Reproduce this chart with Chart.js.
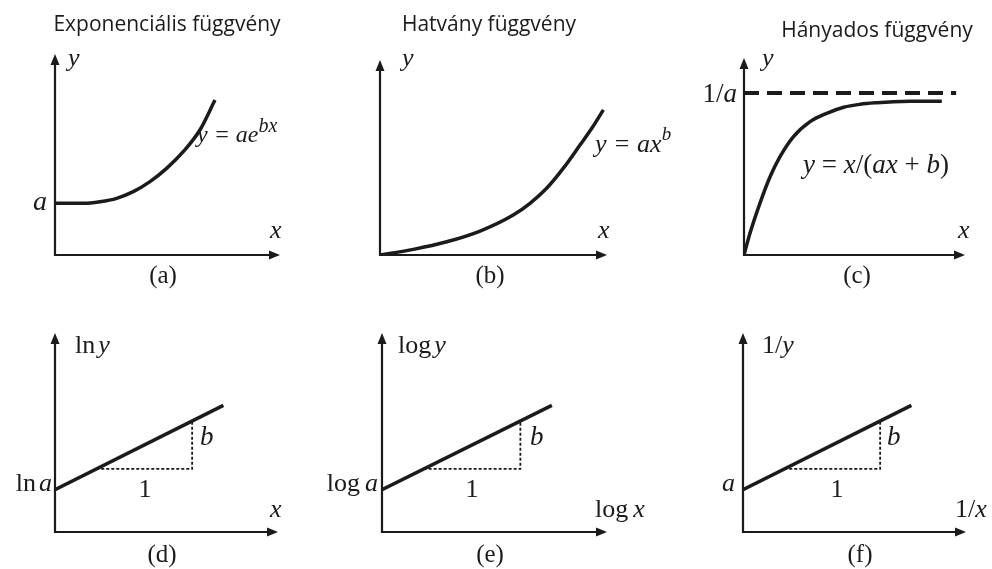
<!DOCTYPE html>
<html>
<head>
<meta charset="utf-8">
<script src="https://cdn.jsdelivr.net/npm/chart.js@4.4.1/dist/chart.umd.min.js"></script>
<style>
  html, body { margin: 0; padding: 0; background: #fff; }
  #stage { position: relative; width: 992px; height: 569px; overflow: hidden; }
  #stage canvas { position: absolute; left: 0; top: 0; }
</style>
</head>
<body>
<div id="stage">
  <canvas id="panelA" width="992" height="569"></canvas>
  <canvas id="panelB" width="992" height="569"></canvas>
  <canvas id="panelC" width="992" height="569"></canvas>
  <canvas id="panelD" width="992" height="569"></canvas>
  <canvas id="panelE" width="992" height="569"></canvas>
  <canvas id="panelF" width="992" height="569"></canvas>
</div>
<script>
  'use strict';

  // Each axis runs 0..100 from the origin to the arrow tip.
  // (a) exponential curve y = a e^(bx)
  const expX = [0, 12.6, 20, 27.4, 34.8, 42.2, 49.6, 57, 64.4, 71.1];
  const expY = [25.7, 25.7, 26.5, 28.2, 31.5, 36.5, 43.1, 51.4, 62.2, 77.1];

  // (b) power curve y = a x^b
  const powX = [0, 14.7, 29.4, 44.1, 58.7, 66.1, 73.4, 80.7, 88.1, 93.3, 98.4];
  const powY = [0, 2.9, 6.8, 12.3, 20.5, 26.5, 34.2, 44.4, 56.4, 65.0, 74.4];

  // (c) ratio curve y = x/(ax + b) and its 1/a asymptote
  const ratX = [0, 2.7, 7.2, 11.8, 16.3, 22.3, 29.9, 37.4, 45.1, 52.6, 60.2, 67.7, 75.1, 89.5];
  const ratY = [0, 11.0, 26.2, 39.7, 49.9, 60.0, 67.7, 71.9, 75.0, 76.5, 77.3, 77.8, 78.0, 78.0];
  const asymX = [0, 96];
  const asymY = [82.2, 82.2];

  // (d)-(f) linearised forms: straight line plus the slope triangle
  const linX = [0, 75.5];
  const linY = [21.3, 63.6];
  const stepX = [18.5, 61.5, 61.5];
  const stepY = [31.7, 31.7, 55.8];

  const titles = ['Exponenciális függvény', 'Hatvány függvény', 'Hányados függvény'];
  const captions = ['(a)', '(b)', '(c)', '(d)', '(e)', '(f)'];

  const W = 992;
  const H = 569;
  const INK = '#1b1b1b';
  const SERIF = '"Liberation Serif", "DejaVu Serif", serif';
  const SANS = '21px "Open Sans", "Noto Sans", sans-serif';
  const it = (s) => `italic ${s}px ${SERIF}`;
  const rm = (s) => `${s}px ${SERIF}`;
  const HEAD = 11;

  const pts = (xs, ys) => xs.map((x, i) => ({ x, y: ys[i] }));

  function curve(xs, ys) {
    return {
      data: pts(xs, ys), borderColor: INK, borderWidth: 3.5, pointRadius: 0,
      fill: false, cubicInterpolationMode: 'monotone'
    };
  }

  function straight(xs, ys, extra) {
    return Object.assign({
      data: pts(xs, ys), borderColor: INK, borderWidth: 3.5, pointRadius: 0,
      fill: false, tension: 0
    }, extra);
  }

  const slopeSeries = () => [
    straight(linX, linY),
    straight(stepX, stepY, { borderWidth: 1.8, borderDash: [3, 2] })
  ];

  // axes with filled arrowheads, drawn from the chart area edges
  const axesArrows = {
    id: 'axesArrows',
    beforeDatasetsDraw(chart) {
      const { ctx, chartArea: a } = chart;
      ctx.save();
      ctx.strokeStyle = INK;
      ctx.fillStyle = INK;
      ctx.lineWidth = 2.2;
      ctx.lineJoin = 'miter';
      ctx.beginPath();
      ctx.moveTo(a.left, a.top + HEAD);
      ctx.lineTo(a.left, a.bottom);
      ctx.lineTo(a.right - HEAD, a.bottom);
      ctx.stroke();
      ctx.beginPath();
      ctx.moveTo(a.left, a.top);
      ctx.lineTo(a.left - 4.5, a.top + HEAD);
      ctx.lineTo(a.left + 4.5, a.top + HEAD);
      ctx.closePath();
      ctx.fill();
      ctx.beginPath();
      ctx.moveTo(a.right, a.bottom);
      ctx.lineTo(a.right - HEAD, a.bottom - 4.5);
      ctx.lineTo(a.right - HEAD, a.bottom + 4.5);
      ctx.closePath();
      ctx.fill();
      ctx.restore();
    }
  };

  // text placed by offset from the axis origin; parts allow mixed fonts and superscripts
  const panelText = {
    id: 'panelText',
    afterDatasetsDraw(chart, args, opts) {
      const { ctx, chartArea: a } = chart;
      ctx.save();
      ctx.fillStyle = INK;
      ctx.textBaseline = 'alphabetic';
      ctx.textAlign = 'left';
      (opts.labels || []).forEach((label) => {
        const widths = label.parts.map((p) => {
          ctx.font = p.f;
          return (p.gap || 0) + ctx.measureText(p.t).width;
        });
        const total = widths.reduce((s, w) => s + w, 0);
        let x = a.left + label.dx;
        if (label.align === 'center') x -= total / 2;
        if (label.align === 'right') x -= total;
        const y = a.bottom + label.dy;
        label.parts.forEach((p, i) => {
          ctx.font = p.f;
          ctx.fillText(p.t, x + (p.gap || 0), y + (p.up || 0));
          x += widths[i];
        });
      });
      ctx.restore();
    }
  };

  const single = (t, f, dx, dy, align) => ({ dx, dy, align, parts: [{ t, f }] });

  const panels = [
    {
      id: 'panelA', origin: [55, 255], tip: [280, 54],
      series: [curve(expX, expY)],
      labels: [
        single(titles[0], SANS, 112, -224, 'center'),
        single('y', it(26), 13, -189),
        single('a', it(28), -8, -45, 'right'),
        single('x', it(26), 215, -17),
        { dx: 142, dy: -113, parts: [{ t: 'y = ae', f: it(24) }, { t: 'bx', f: it(20), up: -10 }] },
        single(captions[0], rm(25), 108, 28, 'center')
      ]
    },
    {
      id: 'panelB', origin: [380, 255], tip: [607, 60],
      series: [curve(powX, powY)],
      labels: [
        single(titles[1], SANS, 109, -224, 'center'),
        single('y', it(26), 22, -189),
        single('x', it(26), 218, -17),
        { dx: 215, dy: -103, parts: [{ t: 'y = ax', f: it(26) }, { t: 'b', f: it(19), up: -12 }] },
        single(captions[1], rm(25), 110, 28, 'center')
      ]
    },
    {
      id: 'panelC', origin: [744, 255], tip: [965, 58],
      series: [
        straight(asymX, asymY, { borderWidth: 4, borderDash: [15, 8] }),
        curve(ratX, ratY)
      ],
      labels: [
        single(titles[2], SANS, 133, -218, 'center'),
        single('y', it(26), 18, -189),
        { dx: -7, dy: -153, align: 'right', parts: [{ t: '1/', f: rm(27) }, { t: 'a', f: it(27) }] },
        {
          dx: 59, dy: -82, parts: [
            { t: 'y', f: it(27) }, { t: ' = ', f: rm(27) }, { t: 'x', f: it(27) },
            { t: '/(', f: rm(27) }, { t: 'ax', f: it(27) }, { t: ' + ', f: rm(27) },
            { t: 'b', f: it(27) }, { t: ')', f: rm(27) }
          ]
        },
        single('x', it(26), 214, -17),
        single(captions[2], rm(25), 113, 28, 'center')
      ]
    },
    {
      id: 'panelD', origin: [55, 532], tip: [278, 333],
      series: slopeSeries(),
      labels: [
        { dx: 20, dy: -179, parts: [{ t: 'ln', f: rm(26) }, { t: 'y', f: it(26), gap: 3 }] },
        { dx: -3, dy: -41, align: 'right', parts: [{ t: 'ln', f: rm(26) }, { t: 'a', f: it(26), gap: 3 }] },
        single('b', it(27), 145, -87),
        single('1', rm(26), 90, -35, 'center'),
        single('x', it(26), 215, -15),
        single(captions[3], rm(25), 107, 30, 'center')
      ]
    },
    {
      id: 'panelE', origin: [382, 532], tip: [607, 333],
      series: slopeSeries(),
      labels: [
        { dx: 16, dy: -179, parts: [{ t: 'log', f: rm(26) }, { t: 'y', f: it(26), gap: 3 }] },
        { dx: -4, dy: -41, align: 'right', parts: [{ t: 'log', f: rm(26) }, { t: 'a', f: it(26), gap: 5 }] },
        single('b', it(27), 148, -87),
        single('1', rm(26), 90, -35, 'center'),
        { dx: 213, dy: -15, parts: [{ t: 'log', f: rm(26) }, { t: 'x', f: it(26), gap: 5 }] },
        single(captions[4], rm(25), 108, 30, 'center')
      ]
    },
    {
      id: 'panelF', origin: [743, 532], tip: [966, 333],
      series: slopeSeries(),
      labels: [
        { dx: 19, dy: -179, parts: [{ t: '1/', f: rm(26) }, { t: 'y', f: it(26) }] },
        single('a', it(26), -8, -41, 'right'),
        single('b', it(27), 144, -87),
        single('1', rm(26), 94, -35, 'center'),
        { dx: 212, dy: -15, parts: [{ t: '1/', f: rm(26) }, { t: 'x', f: it(26) }] },
        single(captions[5], rm(25), 117, 30, 'center')
      ]
    }
  ];

  function makeChart(panel) {
    const [ox, oy] = panel.origin;
    const [tx, ty] = panel.tip;
    return new Chart(document.getElementById(panel.id), {
      type: 'line',
      data: { datasets: panel.series },
      options: {
        responsive: false,
        animation: false,
        events: [],
        layout: { padding: { left: ox, top: ty, right: W - tx, bottom: H - oy } },
        scales: {
          x: { type: 'linear', min: 0, max: 100, display: false },
          y: { type: 'linear', min: 0, max: 100, display: false }
        },
        plugins: {
          legend: { display: false },
          tooltip: { enabled: false },
          panelText: { labels: panel.labels }
        }
      },
      plugins: [axesArrows, panelText]
    });
  }

  panels.forEach(makeChart);
</script>
</body>
</html>
